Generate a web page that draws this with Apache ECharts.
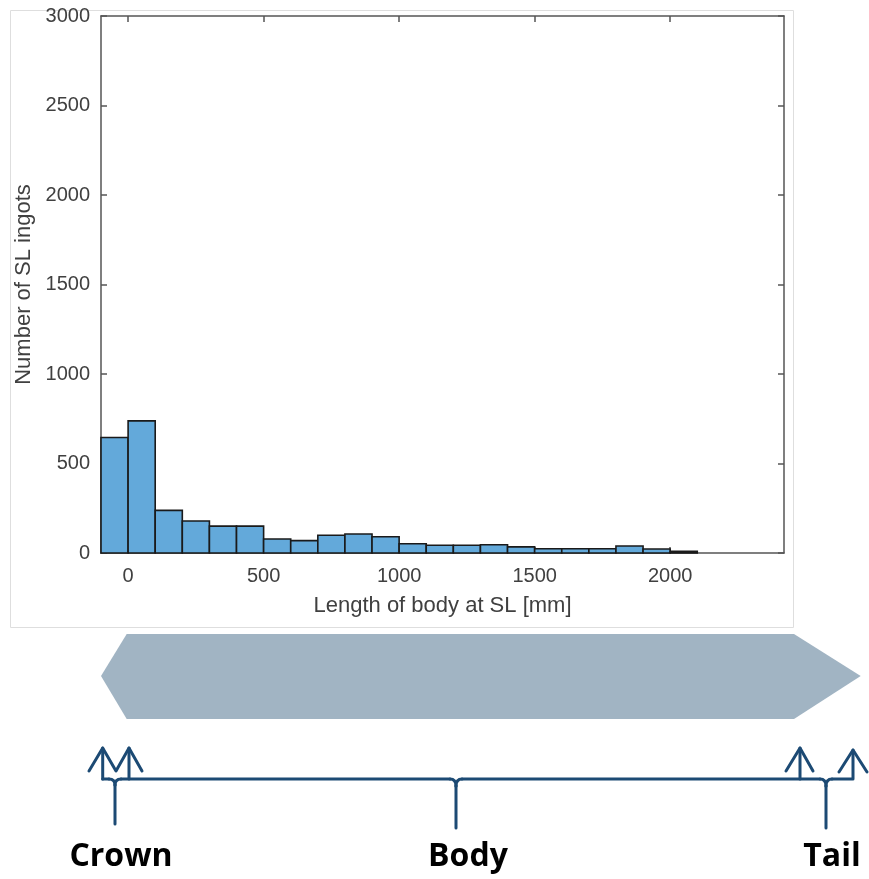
<!DOCTYPE html>
<html>
<head>
<meta charset="utf-8">
<script src="https://cdn.jsdelivr.net/npm/echarts@6/dist/echarts.min.js"></script>
<style>
  html, body { margin: 0; padding: 0; background: #ffffff; }
  #chart { width: 869px; height: 879px; }
</style>
</head>
<body>
<div id="chart"></div>
<script>
// Histogram of body length at SL: bin start (mm) and ingot count per bin
const binStarts = [-100, 0, 100, 200, 300, 400, 500, 600, 700, 800, 900,
                   1000, 1100, 1200, 1300, 1400, 1500, 1600, 1700, 1800, 1900, 2000];
const binCounts = [645, 738, 238, 179, 150, 150, 78, 69, 99, 106, 91,
                   52, 43, 43, 46, 34, 24, 24, 24, 39, 22, 9];
const binWidth = 100;

const xTicks = [0, 500, 1000, 1500, 2000];
const yTicks = [0, 500, 1000, 1500, 2000, 2500, 3000];

const xTitle = 'Length of body at SL [mm]';
const yTitle = 'Number of SL ingots';
const partLabels = ['Crown', 'Body', 'Tail'];

const axisColor = '#555555';
const textColor = '#404040';
const barFill = '#63a9da';
const navy = '#1c4a74';
const tickFont = {
  fontFamily: 'Liberation Sans, Arial, sans-serif', fontSize: 20, color: textColor,
  formatter: v => String(v)
};

const histData = binStarts.map((s, i) => [s, s + binWidth, binCounts[i]]);

const chart = echarts.init(document.getElementById('chart'), null, { renderer: 'canvas' });

function boxAxis(extra) {
  return Object.assign({
    type: 'value',
    axisLine: { show: true, onZero: false, lineStyle: { color: axisColor, width: 1.5 } },
    axisTick: { show: true, inside: true, length: 6, lineStyle: { color: axisColor, width: 1.5 } },
    splitLine: { show: false },
    axisLabel: { show: false }
  }, extra);
}

// Arrow shafts, arrow heads and straight parts of the braces
const braceLines = [
  // crown
  [[102.7, 779], [102.7, 748]],
  [[89, 771], [102.7, 748], [116, 771], [129, 748], [142, 771]],
  [[129, 748], [129, 779]],
  [[102.7, 779], [109, 779]],
  [[121, 779], [450, 779]],
  [[115, 785], [115, 824]],
  // body
  [[462, 779], [820, 779]],
  [[456, 786], [456, 828]],
  // tail
  [[800, 779], [800, 748]],
  [[786, 771], [800, 748], [813, 771]],
  [[832, 779], [853, 779], [853, 750]],
  [[839, 772], [853, 750], [867, 772]],
  [[826, 786], [826, 828]]
];
// Curled joints of the braces: [start, control, end]
const braceCurls = [
  [[109, 779], [115, 779], [115, 785]],
  [[121, 779], [115, 779], [115, 785]],
  [[450, 779], [456, 779], [456, 786]],
  [[462, 779], [456, 779], [456, 786]],
  [[820, 779], [826, 779], [826, 786]],
  [[832, 779], [826, 779], [826, 786]]
];

const labelPos = [121, 468, 832];
const braceStyle = { fill: 'none', stroke: navy, lineWidth: 3, lineJoin: 'round', lineCap: 'round' };

const braceGraphics = braceLines.map(pts => ({
  type: 'polyline', silent: true, shape: { points: pts }, style: braceStyle
})).concat(braceCurls.map(c => ({
  type: 'bezierCurve', silent: true,
  shape: { x1: c[0][0], y1: c[0][1], cpx1: c[1][0], cpy1: c[1][1], x2: c[2][0], y2: c[2][1] },
  style: braceStyle
})));

const option = {
  backgroundColor: '#ffffff',
  animation: false,
  grid: { left: 101, right: 85, top: 16, bottom: 326 },
  xAxis: [
    boxAxis({
      position: 'bottom', min: -100, max: 2420,
      name: xTitle, nameLocation: 'middle', nameGap: 42,
      nameTextStyle: { fontFamily: 'Liberation Sans, Arial, sans-serif', fontSize: 22, color: textColor },
      axisTick: { show: true, inside: true, length: 6, customValues: xTicks, lineStyle: { color: axisColor, width: 1.5 } },
      axisLabel: Object.assign({ show: true, margin: 13, customValues: xTicks }, tickFont)
    }),
    boxAxis({
      position: 'top', min: -100, max: 2420,
      axisTick: { show: true, inside: true, length: 6, customValues: xTicks, lineStyle: { color: axisColor, width: 1.5 } }
    })
  ],
  yAxis: [
    boxAxis({
      position: 'left', min: 0, max: 3000, interval: 500,
      name: yTitle, nameLocation: 'middle', nameGap: 66,
      nameTextStyle: { fontFamily: 'Liberation Sans, Arial, sans-serif', fontSize: 22, color: textColor },
      axisLabel: Object.assign({ show: true, margin: 11, customValues: yTicks }, tickFont)
    }),
    boxAxis({ position: 'right', min: 0, max: 3000, interval: 500 })
  ],
  series: [{
    type: 'custom',
    xAxisIndex: 0,
    yAxisIndex: 0,
    data: histData,
    renderItem: function (params, api) {
      const p0 = api.coord([api.value(0), api.value(2)]);
      const p1 = api.coord([api.value(1), 0]);
      return {
        type: 'rect',
        shape: { x: p0[0], y: p0[1], width: p1[0] - p0[0], height: p1[1] - p0[1] },
        style: { fill: barFill, stroke: '#1a1a1a', lineWidth: 1.6 }
      };
    },
    z: 3
  }],
  graphic: [
    {
      type: 'rect', z: -1, silent: true,
      shape: { x: 10.5, y: 10.5, width: 783, height: 617 },
      style: { fill: 'none', stroke: '#dedede', lineWidth: 1 }
    },
    {
      type: 'polygon', silent: true,
      shape: { points: [[101, 676], [126.7, 634], [794, 634], [860.7, 676], [794, 719], [126.7, 719]] },
      style: { fill: '#a1b4c3' }
    }
  ].concat(braceGraphics).concat(partLabels.map((t, i) => ({
    type: 'text', silent: true,
    x: labelPos[i], y: 857,
    style: {
      text: t, fill: '#000000',
      font: 'bold 32px "Open Sans", sans-serif',
      textAlign: 'center', textVerticalAlign: 'middle'
    }
  })))
};

chart.setOption(option);
</script>
</body>
</html>
